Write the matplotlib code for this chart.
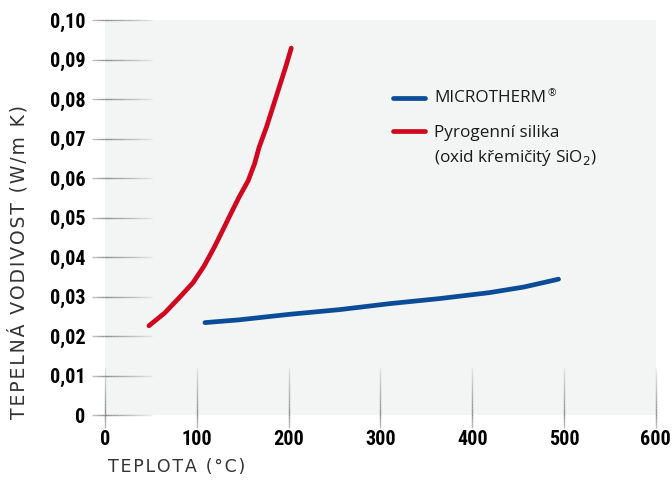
import numpy as np
import matplotlib.pyplot as plt
from matplotlib.collections import LineCollection

silika_t = [48, 65, 81, 96, 108, 119, 128, 137, 146, 156, 163, 168, 176, 183, 190, 197, 203]
silika_k = [0.0226, 0.0258, 0.0297, 0.0335, 0.0377, 0.0424, 0.0466, 0.0509, 0.0551, 0.0593,
            0.0636, 0.0678, 0.0729, 0.0780, 0.0831, 0.0882, 0.0929]

microtherm_t = [109, 146, 201, 256, 310, 365, 419, 456, 477, 494]
microtherm_k = [0.0234, 0.0241, 0.0255, 0.0267, 0.0282, 0.0295, 0.0310, 0.0324, 0.0335, 0.0344]

x_ticks = [0, 100, 200, 300, 400, 500, 600]
y_ticks = [0, 0.01, 0.02, 0.03, 0.04, 0.05, 0.06, 0.07, 0.08, 0.09, 0.10]
y_labels = ['0', '0,01', '0,02', '0,03', '0,04', '0,05', '0,06', '0,07', '0,08', '0,09', '0,10']

blue = '#0a4c97'
red = '#d0071e'
tick_font = dict(family=['Roboto Condensed', 'Roboto'], weight='bold', size=14.5)

fig = plt.figure(figsize=(6.72, 4.9), dpi=100)
ax = fig.add_axes([0.156, 0.153, 0.82, 0.806])
ax.set_facecolor('#f3f4f4')
for s in ax.spines.values():
    s.set_visible(False)

ax.set_xlim(0, 600)
ax.set_ylim(0, 0.10)

# kratke "tick" cary s prechodem (nejtmavsi u osy)
pos = np.linspace(-0.024, 0.085, 40)
alpha = np.interp(pos, [-0.024, 0.0, 0.085], [0.45, 0.85, 0.1])
cols = [(0.45, 0.45, 0.45, a) for a in alpha[:-1]]
for y in y_ticks:
    segs = [[(pos[i], y), (pos[i + 1], y)] for i in range(len(pos) - 1)]
    ax.add_collection(LineCollection(segs, colors=cols, lw=1, transform=ax.get_yaxis_transform(),
                                     clip_on=False, zorder=1))
pos_x = np.linspace(-0.033, 0.12, 40)
alpha_x = np.interp(pos_x, [-0.033, 0.0, 0.12], [0.45, 0.85, 0.1])
cols_x = [(0.45, 0.45, 0.45, a) for a in alpha_x[:-1]]
for x in x_ticks:
    segs = [[(x, pos_x[i]), (x, pos_x[i + 1])] for i in range(len(pos_x) - 1)]
    ax.add_collection(LineCollection(segs, colors=cols_x, lw=1, transform=ax.get_xaxis_transform(),
                                     clip_on=False, zorder=1))

ax.plot(microtherm_t, microtherm_k, color=blue, lw=3.4, solid_capstyle='round', zorder=3)
ax.plot(silika_t, silika_k, color=red, lw=3.4, solid_capstyle='round', zorder=3)

ax.set_xticks(x_ticks)
ax.set_xticklabels([str(v) for v in x_ticks], fontdict=tick_font)
ax.set_yticks(y_ticks)
ax.set_yticklabels(y_labels, fontdict=tick_font)
ax.tick_params(length=0, pad=14)
ax.tick_params(axis='x', pad=11)

hs = '\u200a'
fig.text(0.027, 0.465, hs.join('TEPELNÁ VODIVOST (W/m K)'), rotation=90, ha='center', va='center',
         fontsize=13.5, color='#333333', family='DejaVu Sans')
fig.text(0.161, 0.047, hs.join('TEPLOTA (°C)'), ha='left', va='center',
         fontsize=12.5, color='#333333', family='DejaVu Sans')

# legenda rucne
leg_font = dict(family='Open Sans', size=12.3, color='#1a1a1a')
ax.plot([0.523, 0.581], [0.803, 0.803], transform=ax.transAxes, color=blue, lw=3.4,
        solid_capstyle='round')
ax.plot([0.523, 0.581], [0.719, 0.719], transform=ax.transAxes, color=red, lw=3.4,
        solid_capstyle='round')
t = ax.text(0.598, 0.803, 'MICROTHERM', transform=ax.transAxes, va='center', **leg_font)
ax.annotate('®', xy=(1, 0.75), xycoords=t, xytext=(1, 0), textcoords='offset points',
            va='center', ha='left', family='Open Sans', size=7.5, color='#1a1a1a')
ax.text(0.598, 0.714, 'Pyrogenní silika', transform=ax.transAxes, va='center', **leg_font)
ax.text(0.598, 0.651, '(oxid křemičitý SiO$_2$)', transform=ax.transAxes, va='center', **leg_font)

fig.savefig('out.png', dpi=100)
